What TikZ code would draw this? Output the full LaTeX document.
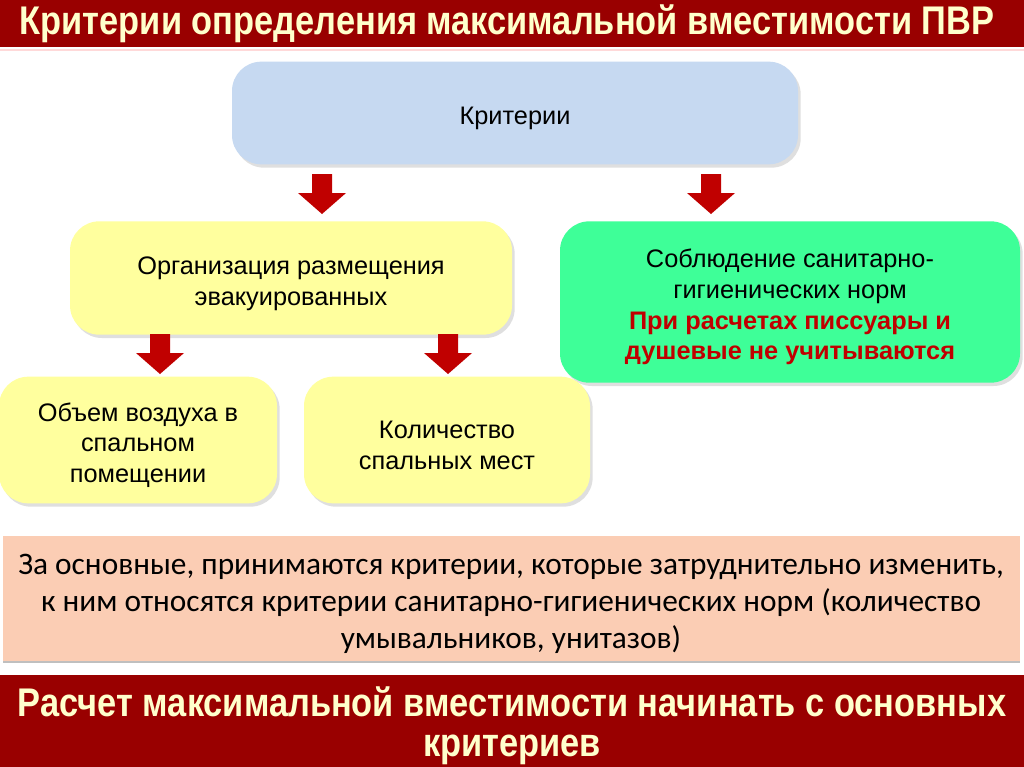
\documentclass[tikz,border=0pt]{standalone}
\usepackage{fontspec}
\setmainfont{Liberation Sans}
\newfontfamily\narrowbold[FakeStretch=0.86]{Liberation Sans}
\newfontfamily\notefont{Carlito}
\usetikzlibrary{shadows}
\definecolor{bandred}{HTML}{990000}
\definecolor{creamtext}{HTML}{FFFFCC}
\definecolor{boxblue}{HTML}{C6D9F1}
\definecolor{boxyellow}{HTML}{FFFF9E}
\definecolor{boxgreen}{HTML}{3EFF98}
\definecolor{notered}{HTML}{C00000}
\definecolor{arrowred}{HTML}{C00000}
\definecolor{notepeach}{HTML}{FBCDB4}
\newcommand\topstrut{\rule{0pt}{21.5pt}}
\tikzset{
  critbox/.style={rounded corners=22pt, align=center, inner sep=0pt,
    font=\fontsize{19}{23}\selectfont,
    drop shadow={shadow xshift=2pt, shadow yshift=-2.5pt, opacity=0.25}},
  redarrow/.pic={
    \fill[arrowred] (-10,0) -- (10,0) -- (10,19) -- (24,19) -- (0,40)
      -- (-24,19) -- (-10,19) -- cycle;}
}
\begin{document}
\begin{tikzpicture}[x=0.75pt, y=-0.75pt]
\useasboundingbox (0,0) rectangle (1024,767);
\fill[white] (0,0) rectangle (1024,767);
% title band
\fill[bandred] (0,0) rectangle (1024,47);
\draw[red!15, line width=1pt] (0,50) -- (1024,50);
\node[text=creamtext, font=\narrowbold\bfseries\fontsize{30}{30}\selectfont] (title) at (507,24)
  {Критерии определения максимальной вместимости ПВР};
% boxes
\node[critbox, fill=boxblue, minimum width=424.5pt, minimum height=77pt] (crit) at (515,113) {\topstrut Критерии};
\node[critbox, fill=boxyellow, minimum width=331.5pt, minimum height=85pt] (org) at (291,278)
  {\topstrut Организация размещения\\эвакуированных};
\node[critbox, fill=boxgreen, minimum width=345pt, minimum height=121pt] (san) at (790,302)
  {\topstrut Соблюдение санитарно-\\гигиенических норм\\
   \textcolor{notered}{\bfseries При расчетах писсуары и}\\
   \textcolor{notered}{\bfseries душевые не учитываются}};
\node[critbox, fill=boxyellow, minimum width=208.5pt, minimum height=95pt] (air) at (138,440)
  {\topstrut Объем воздуха в\\спальном\\помещении};
\node[critbox, fill=boxyellow, minimum width=214.5pt, minimum height=95pt] (beds) at (447,440)
  {\topstrut Количество\\спальных мест};
% arrows
\pic at (322,174) {redarrow};
\pic at (711,174) {redarrow};
\pic at (160,334) {redarrow};
\pic at (448,334) {redarrow};
% note band
\fill[notepeach] (3,536) rectangle (1020,662);
\draw[black!25, line width=1pt] (3,662) -- (1020,662);
\node[align=center, font=\notefont\fontsize{23.5}{28}\selectfont] (note) at (511,604)
  {За основные, принимаются критерии, которые затруднительно изменить,\\
   к ним относятся критерии санитарно-гигиенических норм (количество\\
   умывальников, унитазов)};
% bottom band
\fill[bandred] (0,675) rectangle (1024,767);
\node[align=center, text=creamtext, font=\narrowbold\bfseries\fontsize{30}{30}\selectfont] (start) at (512,726)
  {Расчет максимальной вместимости начинать с основных\\критериев};
\end{tikzpicture}
\end{document}
